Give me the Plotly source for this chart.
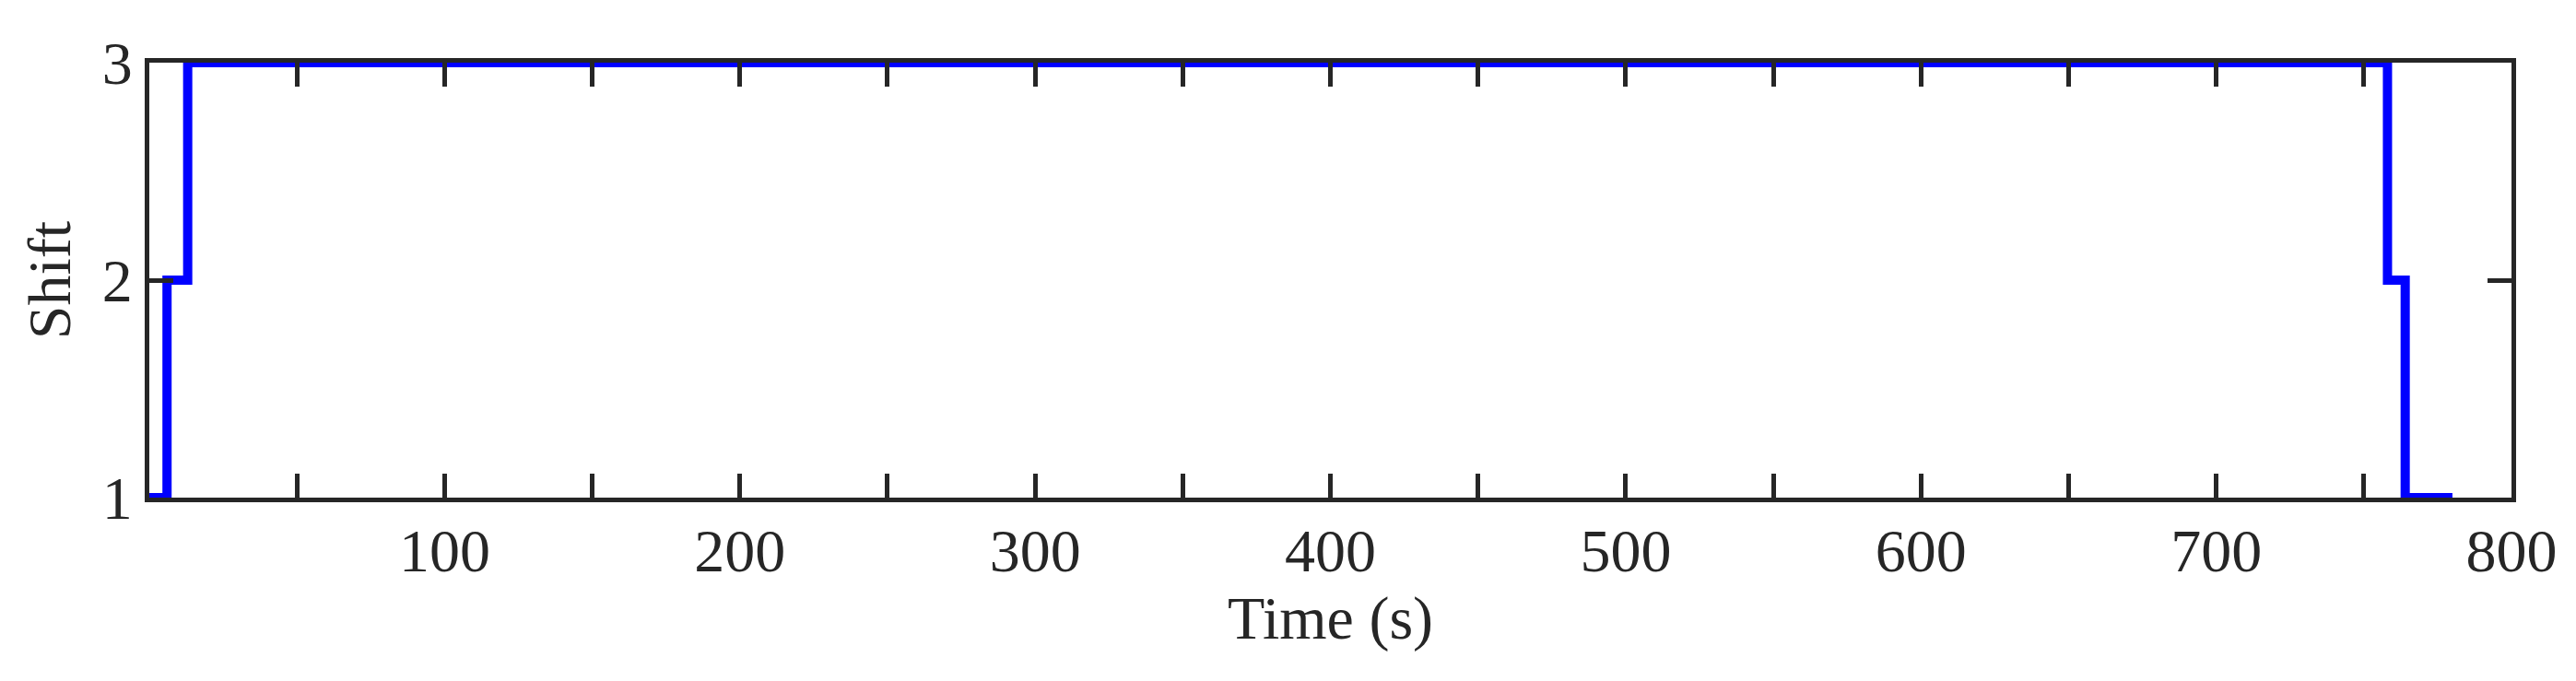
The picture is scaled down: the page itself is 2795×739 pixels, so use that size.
import plotly.graph_objects as go

# gear shift over time (step signal)
time_s = [0, 6, 13, 758, 764, 780]
shift = [1, 2, 3, 2, 1, 1]

x_ticks = list(range(0, 801, 50))
x_tick_text = [str(v) if v % 100 == 0 and v > 0 else "" for v in x_ticks]
y_ticks = [1, 2, 3]

AXIS_COLOR = "#262626"
FONT = "Liberation Serif, Times New Roman, serif"
FONT_SIZE = 66

fig = go.Figure()
fig.add_trace(
    go.Scatter(
        x=time_s,
        y=shift,
        mode="lines",
        line={"color": "#0000ff", "width": 10, "shape": "hv"},
        showlegend=False,
    )
)

axis_common = dict(
    showline=True,
    linecolor=AXIS_COLOR,
    linewidth=5,
    mirror="allticks",
    ticks="inside",
    ticklen=26,
    tickwidth=4.5,
    tickcolor=AXIS_COLOR,
    showgrid=False,
    zeroline=False,
    tickfont={"family": FONT, "size": FONT_SIZE, "color": AXIS_COLOR},
)

fig.update_xaxes(
    range=[0, 800],
    tickvals=x_ticks,
    ticktext=x_tick_text,
    ticklabelstandoff=-4,
    title={"text": "Time (s)", "font": {"family": FONT, "size": FONT_SIZE, "color": AXIS_COLOR}, "standoff": 12},
    **axis_common,
)
fig.update_yaxes(
    range=[1, 3],
    tickvals=y_ticks,
    ticktext=[str(v) for v in y_ticks],
    title={"text": "Shift", "font": {"family": FONT, "size": FONT_SIZE, "color": AXIS_COLOR}, "standoff": 14},
    **axis_common,
)

fig.update_layout(
    width=2795,
    height=739,
    margin={"l": 154, "r": 78, "t": 60, "b": 207},
    paper_bgcolor="#ffffff",
    plot_bgcolor="#ffffff",
    font={"family": FONT, "size": FONT_SIZE, "color": AXIS_COLOR},
)

fig.write_html("out.html")
